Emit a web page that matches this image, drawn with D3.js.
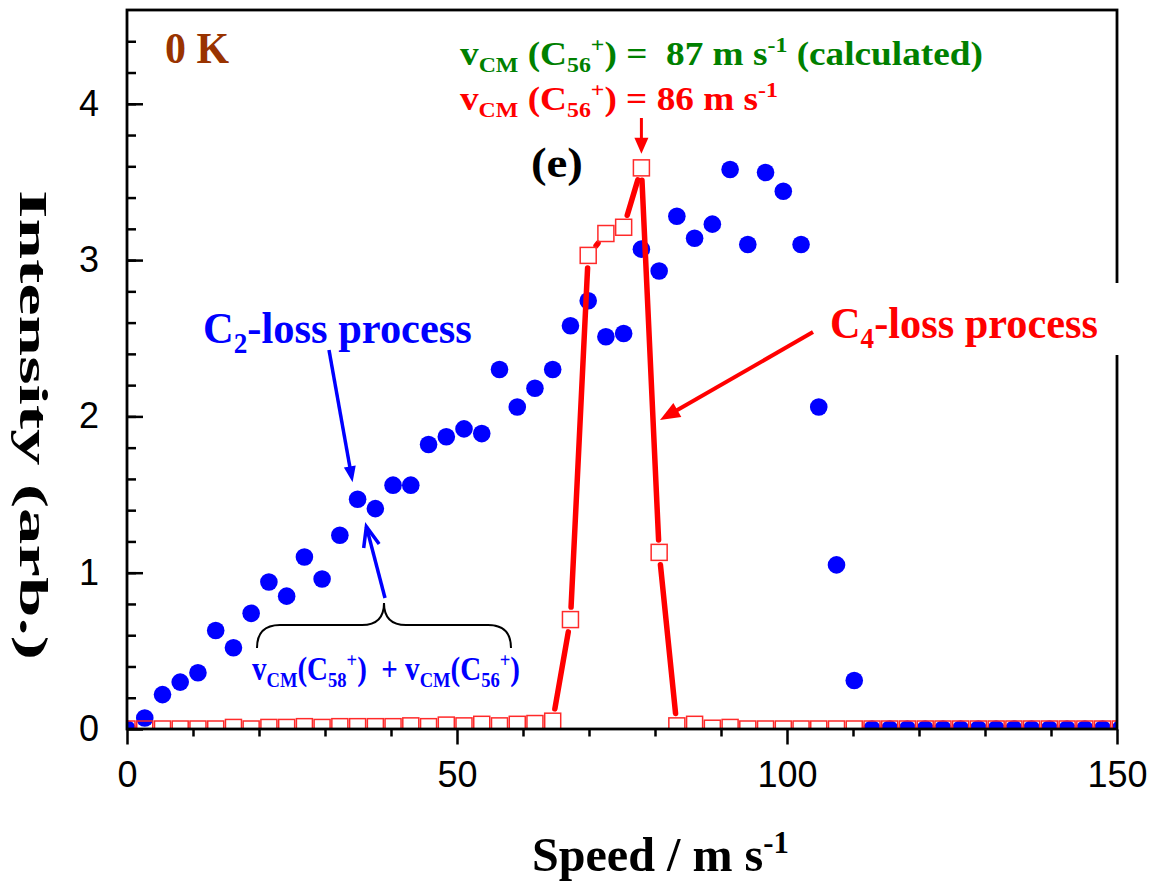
<!DOCTYPE html>
<html>
<head>
<meta charset="utf-8">
<script src="https://cdn.jsdelivr.net/npm/d3@7"></script>
<style>
  body { margin: 0; background: #fff; }
</style>
</head>
<body>
<div id="chart"></div>
<script>
// speed bins (m/s)
const speed = [0, 2.69, 5.38, 8.06, 10.75, 13.44, 16.13, 18.81, 21.5, 24.19,
  26.88, 29.56, 32.25, 34.94, 37.63, 40.31, 43, 45.69, 48.38, 51.06,
  53.75, 56.44, 59.13, 61.81, 64.5, 67.19, 69.88, 72.56, 75.25, 77.94,
  80.63, 83.31, 86, 88.69, 91.38, 94.06, 96.75, 99.44, 102.13, 104.81,
  107.5, 110.19, 112.88, 115.56, 118.25, 120.94, 123.63, 126.31, 129, 131.69,
  134.38, 137.06, 139.75, 142.44, 145.13, 147.81, 150.5];

// C2-loss (blue filled circles)
const c2Loss = [0, 0.07, 0.22, 0.30, 0.36, 0.63, 0.52, 0.74, 0.94, 0.85,
  1.10, 0.96, 1.24, 1.47, 1.41, 1.56, 1.56, 1.82, 1.87, 1.92,
  1.89, 2.30, 2.06, 2.18, 2.30, 2.58, 2.74, 2.51, 2.53, 3.07,
  2.93, 3.28, 3.14, 3.23, 3.58, 3.10, 3.56, 3.44, 3.10, 2.06,
  1.05, 0.31, 0, 0, 0, 0, 0, 0, 0, 0,
  0, 0, 0, 0, 0, 0, 0];

// C4-loss (red open squares + line)
const c4Loss = [0, 0, 0, 0, 0, 0, 0.01, 0, 0.01, 0.01,
  0.015, 0.01, 0.015, 0.015, 0.015, 0.015, 0.02, 0.015, 0.025, 0.02,
  0.03, 0.02, 0.03, 0.035, 0.05, 0.70, 3.03, 3.17, 3.21, 3.59,
  1.13, 0.02, 0.03, 0.005, 0.01, 0, 0, 0, 0, 0,
  0, 0, 0, 0, 0, 0, 0, 0, 0, 0,
  0, 0, 0, 0, 0, 0, 0];

const xTicks = [0, 50, 100, 150];
const yTicks = [0, 1, 2, 3, 4];

const W = 1159, H = 885;
const serif = "'Liberation Serif','Times New Roman',serif";
const sans = "'Liberation Sans',Arial,sans-serif";

const x = d3.scaleLinear().domain([0, 150]).range([127, 1117]);
const y = d3.scaleLinear().domain([0, 4.6]).range([729, 10]);

const svg = d3.select("#chart").append("svg")
  .attr("width", W).attr("height", H)
  .attr("viewBox", `0 0 ${W} ${H}`);

svg.append("defs").append("clipPath").attr("id", "plotclip")
  .append("rect")
    .attr("x", x(0)).attr("y", y(4.6))
    .attr("width", x(150) - x(0)).attr("height", y(0) - y(4.6));

const plot = svg.append("g").attr("clip-path", "url(#plotclip)");

// blue circles
plot.append("g").selectAll("circle")
  .data(speed.map((s, i) => [s, c2Loss[i]]))
  .enter().append("circle")
    .attr("cx", d => x(d[0]))
    .attr("cy", d => y(d[1]))
    .attr("r", 8.8)
    .attr("fill", "#0000ff");

// red line, with a gap around every symbol (Origin style)
const gap = 12.5;
const pts = speed.map((s, i) => [x(s), y(c4Loss[i])]);
for (let i = 0; i < pts.length - 1; i++) {
  const [x1, y1] = pts[i], [x2, y2] = pts[i + 1];
  const len = Math.hypot(x2 - x1, y2 - y1);
  if (len <= 2 * gap) continue;
  const ux = (x2 - x1) / len, uy = (y2 - y1) / len;
  plot.append("line")
    .attr("x1", x1 + ux * gap).attr("y1", y1 + uy * gap)
    .attr("x2", x2 - ux * gap).attr("y2", y2 - uy * gap)
    .attr("stroke", "#ff0000").attr("stroke-width", 5.5)
    .attr("stroke-linecap", "round");
}

// red squares
plot.append("g").selectAll("rect")
  .data(speed.map((s, i) => [s, c4Loss[i]]))
  .enter().append("rect")
    .attr("x", d => x(d[0]) - 8)
    .attr("y", d => y(d[1]) - 8)
    .attr("width", 16).attr("height", 16)
    .attr("fill", "none")
    .attr("stroke", "#ff2a2a")
    .attr("stroke-width", 1.5);

// axes
svg.append("g")
  .attr("transform", `translate(0,${y(0) + 0.5})`)
  .call(d3.axisBottom(x).tickValues(d3.range(10, 150, 10).filter(v => v % 50)).tickSize(7).tickFormat(""));
const xMajor = svg.append("g")
  .attr("transform", `translate(0,${y(0) + 0.5})`)
  .call(d3.axisBottom(x).tickValues(xTicks).tickSize(15).tickSizeOuter(0).tickPadding(17));
xMajor.selectAll("text").attr("font-family", sans).attr("font-size", 36).attr("fill", "#000");

svg.append("g")
  .attr("transform", `translate(${x(0)},0)`)
  .call(d3.axisLeft(y).tickValues(d3.range(0.2, 4.5, 0.2)).tickSize(-9).tickFormat(""));
const yMajor = svg.append("g")
  .attr("transform", `translate(${x(0)},0)`)
  .call(d3.axisLeft(y).tickValues(yTicks).tickFormat(d3.format("d"))
    .tickSize(-16).tickSizeOuter(0).tickPadding(28));
yMajor.selectAll("text").attr("font-family", sans).attr("font-size", 36).attr("fill", "#000");

svg.selectAll(".domain").remove();
svg.selectAll(".tick line").attr("stroke", "#000").attr("stroke-width", 2.5);

// frame
svg.append("rect")
  .attr("x", x(0)).attr("y", y(4.6))
  .attr("width", x(150) - x(0)).attr("height", y(0) - y(4.6))
  .attr("fill", "none").attr("stroke", "#000").attr("stroke-width", 2.8);

// white boxes behind the labels (the C4 one hides part of the right border)
svg.append("rect").attr("x", 812).attr("y", 283).attr("width", 335).attr("height", 72).attr("fill", "#fff");
svg.append("rect").attr("x", 180).attr("y", 293).attr("width", 313).attr("height", 65).attr("fill", "#fff");

// rich text: parts = [[str, "n"|"sub"|"sup"], ...], squeezed to a width
function richText(parts, o) {
  const g = svg.append("g");
  const t = g.append("text")
    .attr("font-family", o.family || serif)
    .attr("font-weight", o.weight || "bold")
    .attr("font-size", o.size)
    .attr("fill", o.color)
    .style("white-space", "pre");
  let shift = 0;
  parts.forEach(([s, k]) => {
    const target = k === "sub" ? o.size * 0.22 : k === "sup" ? -o.size * 0.38 : 0;
    t.append("tspan")
      .attr("dy", target - shift)
      .attr("font-size", k === "n" ? o.size : o.size * 0.64)
      .text(s);
    shift = target;
  });
  const w = t.node().getComputedTextLength();
  const sx = o.width ? o.width / w : 1;
  const rot = o.rotate ? ` rotate(${o.rotate})` : "";
  g.attr("transform", `translate(${o.x},${o.y})${rot} scale(${sx},1)`);
  return g;
}

richText([["0 K", "n"]], { x: 165, y: 63, size: 45, width: 64, color: "#993300" });

richText([["v", "n"], ["CM", "sub"], [" (C", "n"], ["56", "sub"], ["+", "sup"],
  [") =  87 m s", "n"], ["-1", "sup"], [" (calculated)", "n"]],
  { x: 460, y: 65, size: 34, width: 523, color: "#008000" });

richText([["v", "n"], ["CM", "sub"], [" (C", "n"], ["56", "sub"], ["+", "sup"],
  [") = 86 m s", "n"], ["-1", "sup"]],
  { x: 460, y: 110, size: 34, width: 318, color: "#ff0000" });

richText([["(e)", "n"]], { x: 531, y: 177, size: 42, width: 52, color: "#000" });

richText([["C", "n"], ["2", "sub"], ["-loss process", "n"]],
  { x: 203, y: 343, size: 45, width: 269, color: "#0000ff" });

richText([["C", "n"], ["4", "sub"], ["-loss process", "n"]],
  { x: 830, y: 338, size: 45, width: 268, color: "#ff0000" });

richText([["v", "n"], ["CM", "sub"], ["(C", "n"], ["58", "sub"], ["+", "sup"], [")  + v", "n"],
  ["CM", "sub"], ["(C", "n"], ["56", "sub"], ["+", "sup"], [")", "n"]],
  { x: 252, y: 680, size: 33, width: 268, color: "#0000ff" });

richText([["Speed / m s", "n"], ["-1", "sup"]],
  { x: 532, y: 871, size: 48, width: 257, color: "#000" });

richText([["Intensity (arb.)", "n"]],
  { x: 20, y: 190, size: 41, width: 470, color: "#000", rotate: 90 });

// arrows
function arrow(x1, y1, x2, y2, o) {
  const len = Math.hypot(x2 - x1, y2 - y1);
  const ux = (x2 - x1) / len, uy = (y2 - y1) / len;
  const bx = x2 - ux * o.head, by = y2 - uy * o.head;
  const px = -uy * o.half, py = ux * o.half;
  const g = svg.append("g");
  g.append("line")
    .attr("x1", x1).attr("y1", y1)
    .attr("x2", o.open ? x2 : bx + ux * 2).attr("y2", o.open ? y2 : by + uy * 2)
    .attr("stroke", o.color).attr("stroke-width", o.width);
  if (o.open) {
    g.append("path")
      .attr("d", `M${bx + px},${by + py}L${x2},${y2}L${bx - px},${by - py}`)
      .attr("fill", "none").attr("stroke", o.color).attr("stroke-width", o.width);
  } else {
    g.append("path")
      .attr("d", `M${x2},${y2}L${bx + px},${by + py}L${bx - px},${by - py}Z`)
      .attr("fill", o.color);
  }
}

arrow(x(speed[29]), 118, x(speed[29]), y(c4Loss[29]) - 14,
  { color: "#ff0000", width: 3, head: 16, half: 7 });
arrow(813, 332, 660, 420, { color: "#ff0000", width: 4, head: 20, half: 8 });
arrow(329, 350, x(speed[13]) - 5, y(c2Loss[13]) - 17,
  { color: "#0000ff", width: 3.5, head: 16, half: 6 });
arrow(385, 598, x(speed[14]) - 9, y(c2Loss[14]) + 18,
  { color: "#0000ff", width: 3.5, head: 20, half: 8, open: true });

// brace under the two blue arrows
svg.append("path")
  .attr("d", "M257,648 Q257,625 280,625 L362,625 Q384,625 384,603 Q384,625 406,625 L488,625 Q511,625 511,648")
  .attr("fill", "none").attr("stroke", "#000").attr("stroke-width", 2);
</script>
</body>
</html>
